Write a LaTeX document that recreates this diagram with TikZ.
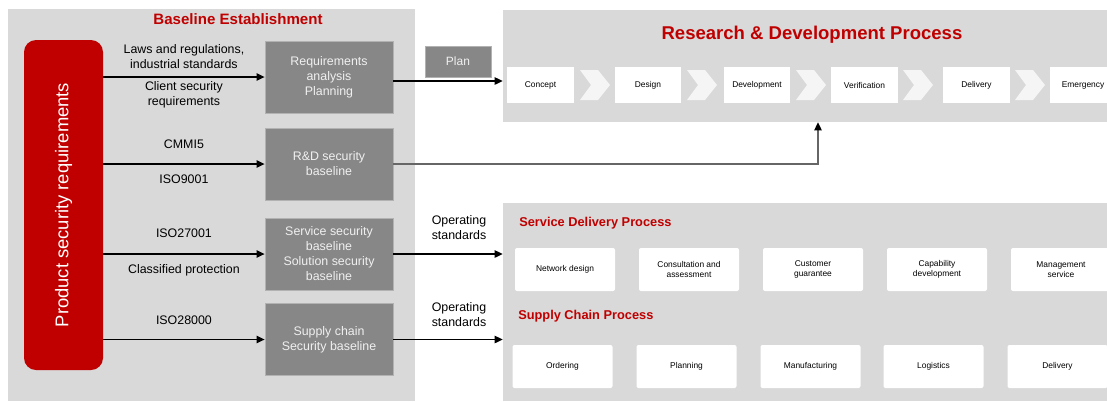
\documentclass[tikz,border=0pt]{standalone}
\usepackage{fontspec}
\setmainfont{Liberation Sans}
\usepackage{tikz}
\usetikzlibrary{arrows.meta}
\usetikzlibrary{positioning}
\usetikzlibrary{calc}

\definecolor{panelgray}{HTML}{D9D9D9}
\definecolor{boxgray}{HTML}{878787}
\definecolor{barred}{HTML}{C00000}
\definecolor{titlered}{HTML}{C00000}
\definecolor{chevwhite}{HTML}{F5F5F5}

\begin{document}
\begin{tikzpicture}[x=0.75pt, y=-0.75pt,
  arr/.style={-{Triangle[length=6pt,width=5.5pt,color=black]}, line width=1pt},
  graybox/.style={draw=black!30, line width=0.6pt, fill=boxgray, text=white!94!black,
    minimum width=96pt, minimum height=54pt, align=center, inner sep=2pt,
    font=\fontsize{9.3}{11.25}\selectfont},
  lab/.style={align=center, inner sep=0pt, font=\fontsize{9.3}{11.25}\selectfont},
  stepbox/.style={fill=white, minimum width=50pt, minimum height=27pt, inner sep=1pt,
    font=\fontsize{6.3}{7.5}\selectfont},
  procbox/.style={fill=white, rounded corners=1.5pt, minimum width=75pt, minimum height=32.25pt,
    align=center, inner sep=1pt, font=\fontsize{6.3}{7.5}\selectfont},
  redtitle/.style={text=titlered, inner sep=0pt, font=\bfseries\fontsize{9.6}{11}\selectfont}]

\useasboundingbox (0,0) rectangle (1107,401);

% baseline establishment
\fill[panelgray] (8,9) rectangle (415,401);
\node[text=titlered, font=\bfseries\fontsize{11.3}{13}\selectfont] (basetitle) at (238,19) {Baseline Establishment};
\node[fill=barred, rounded corners=9pt, minimum width=59.25pt, minimum height=247.5pt] (req) at (63.5,205) {};
\node[rotate=90, text=white, font=\fontsize{13.8}{16}\selectfont] (reqtext) at (req.center) {Product security requirements};

\node[graybox] (reqplan) at (329,77) {Requirements\\analysis\\Planning};
\node[graybox] (rdbase) at (329,164) {R\&D security\\baseline};
\node[graybox] (svbase) at (329,254) {Service security\\baseline\\Solution security\\baseline};
\node[graybox] (scbase) at (329,339.5) {Supply chain\\Security baseline};

\draw[arr] (req.east |- reqplan.west) -- (reqplan.west)
  node[lab, midway, above=6pt] {Laws and regulations,\\industrial standards}
  node[lab, midway, below=3pt] {Client security\\requirements};
\draw[arr] (req.east |- rdbase.west) -- (rdbase.west)
  node[lab, midway, above=11pt] {CMMI5}
  node[lab, midway, below=8pt] {ISO9001};
\draw[arr] (req.east |- svbase.west) -- (svbase.west)
  node[lab, midway, above=12pt] {ISO27001}
  node[lab, midway, below=7.5pt] {Classified protection};
\draw[arr] (req.east |- scbase.west) -- (scbase.west)
  node[lab, midway, above=10.5pt] {ISO28000};

% research & development
\node[fill=panelgray, minimum width=453pt, minimum height=84pt, inner sep=0pt] (rdproc) at (805,66) {};
\node[text=titlered, font=\bfseries\fontsize{13.9}{16}\selectfont] (rdtitle) at (812,35) {Research \& Development Process};
\foreach \x/\name/\txt in {540.5/st1/Concept, 648/st2/Design, 757/st3/Development,
    864.5/st4/Verification, 976.5/st5/Delivery, 1083/st6/Emergency}
  \node[stepbox] (\name) at (\x,85) {\txt};
\foreach \x in {580,687,796,903,1015}
  \fill[chevwhite] (\x,70) -- ++(18,0) -- ++(12,15) -- ++(-12,15) -- ++(-18,0) -- ++(11,-15) -- cycle;

\node[fill=boxgray, draw=black!30, line width=0.6pt, text=white!94!black, minimum width=49.5pt,
  minimum height=23.25pt, font=\fontsize{9}{11}\selectfont] (plan) at (458,61.5) {Plan};
\draw[arr] ([yshift=-3pt]reqplan.east) -- ([yshift=-3pt]reqplan.east -| rdproc.west);
\draw[arr, black!60] (rdbase.east) -| ($(rdproc.south)+(13,0)$);

% service delivery and supply chain
\node[fill=panelgray, minimum width=453pt, minimum height=148.5pt, inner sep=0pt] (sdproc) at (805,302) {};
\node[redtitle, anchor=west] (sdtitle) at (519,223) {Service Delivery Process};
\node[redtitle, anchor=west] (sctitle) at (518,316) {Supply Chain Process};
\foreach \x/\name/\txt in {565/sd1/{Network design}, 689/sd2/{Consultation and\\assessment},
    813/sd3/{Customer\\guarantee}, 937/sd4/{Capability\\development}, 1061/sd5/{Management\\service}}
  \node[procbox] (\name) at (\x,269.5) {\txt};
\foreach \x/\name/\txt in {562.5/sc1/Ordering, 686.5/sc2/Planning, 810.5/sc3/Manufacturing,
    933.5/sc4/Logistics, 1057.5/sc5/Delivery}
  \node[procbox] (\name) at (\x,366.5) {\txt};

\draw[arr] (svbase.east) -- (svbase.east -| sdproc.west)
  node[lab, pos=0.6, above=10pt] {Operating\\standards};
\draw[arr] (scbase.east) -- (scbase.east -| sdproc.west)
  node[lab, pos=0.6, above=9pt] {Operating\\standards};
\end{tikzpicture}
\end{document}
